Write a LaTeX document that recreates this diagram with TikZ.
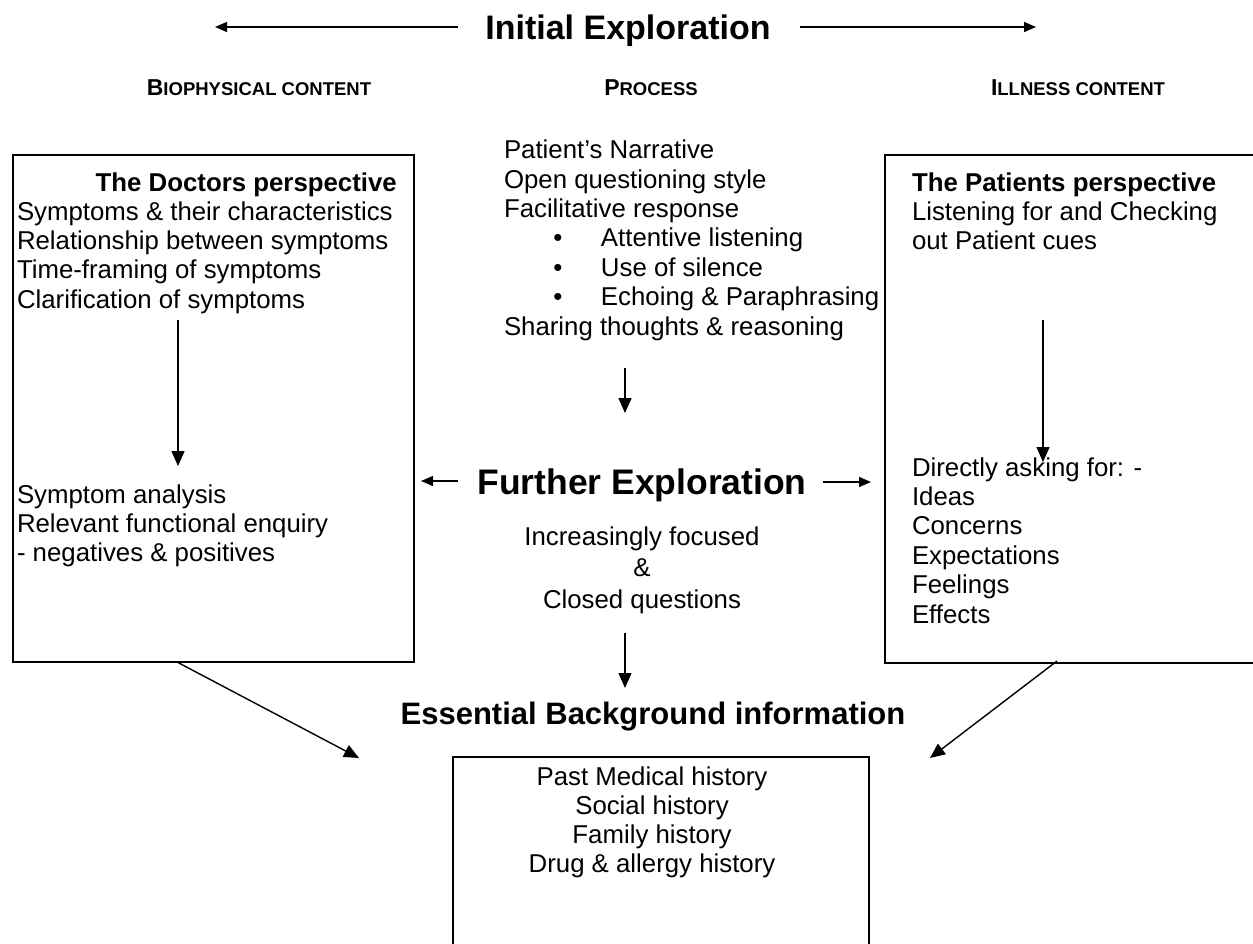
\documentclass[tikz,border=0pt]{standalone}
\usepackage{fontspec}
\setmainfont{Liberation Sans}
\usetikzlibrary{arrows.meta}
\newcommand{\bigsmall}[2]{{\fontsize{23}{23}\selectfont #1}{\fontsize{18.5}{23}\selectfont #2}}
\newcommand{\bitem}[1]{\hspace*{54pt}\makebox[0pt]{\textbullet}\hspace*{43pt}#1}
\begin{document}
\begin{tikzpicture}[x=1pt,y=-1pt,
  body/.style={inner sep=0pt, outer sep=0pt, font=\fontsize{25.8}{29.4}\selectfont},
  bodyl/.style={body, align=left, anchor=north west},
  bodyc/.style={body, align=center, anchor=north},
  btitle/.style={inner sep=0pt, font=\bfseries\fontsize{25.8}{29.4}\selectfont},
  big/.style={inner sep=0pt, font=\bfseries\fontsize{35}{40}\selectfont, anchor=base},
  hdr/.style={inner sep=0pt, font=\bfseries, anchor=base},
  frame/.style={draw, line width=2.4pt, inner sep=0pt, anchor=north west},
  arr/.style={line width=1.4pt, -{Triangle[length=15pt,width=13pt]}},
  sarr/.style={line width=1.4pt, -{Triangle[length=12pt,width=10pt]}}]
\useasboundingbox (0,0) rectangle (1253,943);
\clip (0,0) rectangle (1253,943);

% boxes
\node[frame, minimum width=401pt, minimum height=507pt] (docbox) at (12,154) {};
\node[frame, minimum width=420pt, minimum height=508pt] (patbox) at (884,154) {};
\node[frame, minimum width=416pt, minimum height=260pt] (bgbox) at (452,756) {};

% title
\node[big, font=\bfseries\fontsize{34}{40}\selectfont] (initial) at (628,39.5) {Initial Exploration};
\coordinate (iL1) at (458,27); \coordinate (iL2) at (215,27);
\coordinate (iR1) at (800,27); \coordinate (iR2) at (1036,27);
\draw[sarr] (iL1) -- (iL2);
\draw[sarr] (iR1) -- (iR2);

% headers
\node[hdr] (hbio) at (259,95) {\bigsmall{B}{IOPHYSICAL CONTENT}};
\node[hdr] (hproc) at (651,95) {\bigsmall{P}{ROCESS}};
\node[hdr] (hill) at (1078,95) {\bigsmall{I}{LLNESS CONTENT}};

% doctor box text
\node[btitle, anchor=base east] (doct) at (397,191) {The Doctors perspective};
\node[bodyl] (docl) at (17,201.3) {Symptoms \& their characteristics\\Relationship between symptoms\\Time-framing of symptoms\\Clarification of symptoms};
\node[bodyl] (docl2) at (17,484.3) {Symptom analysis\\Relevant functional enquiry\\- negatives \& positives};
\coordinate (d1) at (178,320); \coordinate (d2) at (178,466);
\draw[arr] (d1) -- (d2);

% patient box text
\node[btitle, anchor=base west] (patt) at (912,191) {The Patients perspective};
\node[bodyl] (patl) at (912,201.3) {Listening for and Checking\\out Patient cues};
\node[bodyl] (patl2) at (912,457.3) {Directly asking for: -\\Ideas\\Concerns\\Expectations\\Feelings\\Effects};
\coordinate (p1) at (1043,320); \coordinate (p2) at (1043,462);
\draw[arr] (p1) -- (p2);

% process
\node[bodyl] (proc) at (504,140) {Patient’s Narrative\\Open questioning style\\Facilitative response\\\bitem{Attentive listening}\\\bitem{Use of silence}\\\bitem{Echoing \& Paraphrasing}\\Sharing thoughts \& reasoning};
\coordinate (c1) at (625,368); \coordinate (c2) at (625,413);
\draw[arr] (c1) -- (c2);

% further exploration
\node[big, font=\bfseries\fontsize{35.5}{40}\selectfont] (further) at (642,494) {Further Exploration};
\coordinate (fL1) at (458,481); \coordinate (fL2) at (421,481);
\coordinate (fR1) at (823,482); \coordinate (fR2) at (871,482);
\draw[sarr] (fL1) -- (fL2);
\draw[sarr] (fR1) -- (fR2);

\node[bodyc, font=\fontsize{25.8}{31.5}\selectfont] (focus) at (642,526.3) {Increasingly focused\\\&\\Closed questions};
\coordinate (e1) at (625,633); \coordinate (e2) at (625,688);
\draw[arr] (e1) -- (e2);

% essential background
\node[big, font=\bfseries\fontsize{31}{36}\selectfont] (essential) at (653,724) {Essential Background information};
\node[bodyc, font=\fontsize{25.8}{29.1}\selectfont] (bgtext) at (652,766.3) {Past Medical history\\Social history\\Family history\\Drug \& allergy history};

% diagonal connectors
\coordinate (g1) at (177,662); \coordinate (g2) at (359,758);
\coordinate (h1) at (1057,661); \coordinate (h2) at (930,758);
\draw[arr] (g1) -- (g2);
\draw[arr] (h1) -- (h2);
\end{tikzpicture}
\end{document}
